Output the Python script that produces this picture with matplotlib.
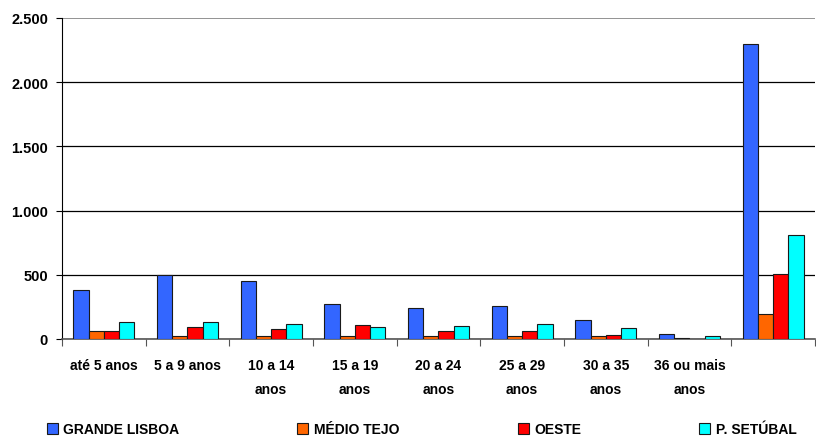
import matplotlib
matplotlib.use('Agg')
import matplotlib.pyplot as plt
import numpy as np

plt.rcParams['font.family'] = ['Liberation Sans', 'DejaVu Sans']
plt.rcParams['font.weight'] = 'bold'

# Data
categories = ['até 5 anos', '5 a 9 anos', '10 a 14\nanos', '15 a 19\nanos',
              '20 a 24\nanos', '25 a 29\nanos', '30 a 35\nanos',
              '36 ou mais\nanos', '']
grande_lisboa = [382, 496, 454, 270, 239, 260, 148, 39, 2295]
medio_tejo = [62, 20, 20, 20, 23, 22, 22, 8, 197]
oeste = [62, 93, 75, 112, 62, 62, 31, 3, 506]
p_setubal = [135, 135, 114, 93, 104, 114, 86, 23, 810]

series_names = ['GRANDE LISBOA', 'MÉDIO TEJO', 'OESTE', 'P. SETÚBAL']
series_values = [grande_lisboa, medio_tejo, oeste, p_setubal]
colors = ['#3366FF', '#FF6600', '#FF0000', '#00FFFF']

yticks = [0, 500, 1000, 1500, 2000, 2500]
ytick_labels = ['0', '500', '1.000', '1.500', '2.000', '2.500']

fig = plt.figure(figsize=(8.16, 4.39), dpi=100)
ax = fig.add_axes([62 / 816, 1 - 340 / 439, 753 / 816, 321 / 439])

x = np.arange(len(categories))
width = 0.182
for i, (name, vals, col) in enumerate(zip(series_names, series_values, colors)):
    ax.bar(x + (i - 1.5) * width, vals, width, color=col, edgecolor='#1a1a1a',
           linewidth=0.8, label=name, zorder=3)

ax.set_xlim(-0.5, len(categories) - 0.5)
ax.set_ylim(0, 2500)
ax.set_yticks(yticks)
ax.set_yticklabels(ytick_labels, fontsize=10.5, fontweight='bold')
ax.yaxis.grid(True, color='black', linewidth=0.9, zorder=0)
gl = ax.get_ygridlines()
gl[-1].set_color('#808080')
gl[-1].set_linewidth(1.2)

# category labels between boundary ticks
ax.set_xticks(np.arange(len(categories) + 1) - 0.5)
ax.set_xticklabels([])
ax.set_xticks(x, minor=True)
ax.set_xticklabels(categories, minor=True, fontsize=10, fontweight='bold',
                   linespacing=1.85)
ax.tick_params(axis='x', which='minor', length=0, pad=14)
ax.tick_params(axis='x', which='major', length=5, color='#555555')
ax.tick_params(axis='y', length=4, pad=6)

for side in ['top', 'right']:
    ax.spines[side].set_visible(False)
ax.spines['left'].set_color('black')
ax.spines['bottom'].set_color('#555555')
ax.spines['bottom'].set_linewidth(1.2)

fig.legend(loc='lower left', bbox_to_anchor=(34 / 816, -0.025), ncol=4,
           frameon=False, prop={'size': 10, 'weight': 'bold'},
           handlelength=0.8, handleheight=0.8, handletextpad=0.4,
           columnspacing=8.5)

fig.savefig('out.png', dpi=100)
